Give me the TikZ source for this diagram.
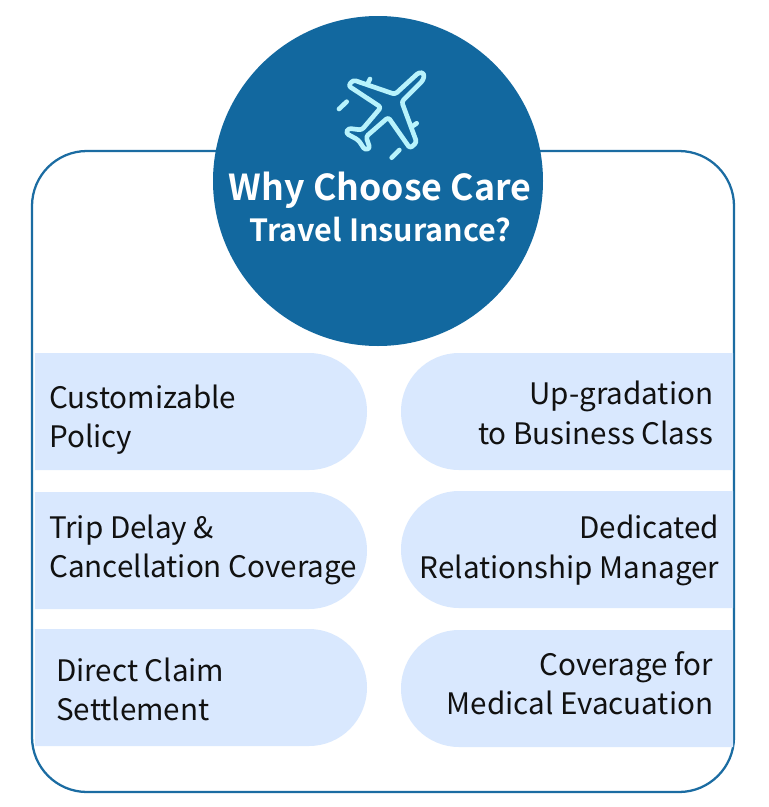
\documentclass[tikz,border=0pt]{standalone}
\usepackage{fontspec}
\setmainfont{Noto Sans CJK SC}
\newfontfamily\titlefont{Noto Sans CJK SC Bold}
\definecolor{deepblue}{HTML}{12689F}
\definecolor{framec}{HTML}{1B6CA2}
\definecolor{pillc}{HTML}{D9E8FE}
\definecolor{planec}{HTML}{B8F3FC}
\definecolor{inkc}{HTML}{111111}
\tikzset{
  x=0.75pt,y=-0.75pt,
  pilltext/.style={inner sep=0pt,text=inkc,font=\fontsize{22.2pt}{27pt}\selectfont},
  lefttext/.style={pilltext,anchor=base west},
  righttext/.style={pilltext,anchor=base east},
  titlebig/.style={inner sep=0pt,text=white,anchor=base,font=\titlefont\fontsize{26.8pt}{32pt}\selectfont},
  titlesmall/.style={inner sep=0pt,text=white,anchor=base,font=\titlefont\fontsize{22.9pt}{28pt}\selectfont},
  planeline/.style={draw=planec,line width=3.5pt,line cap=round,line join=round},
}
\newcommand{\leftpill}[2]{\fill[pillc] (35,#1) -- (309,#1) arc[start angle=90,end angle=-90,x radius=58,y radius=-58.5] -- (35,#2) -- cycle;}
\newcommand{\rightpill}[2]{\fill[pillc] (733,#1) -- (459,#1) arc[start angle=90,end angle=270,x radius=58,y radius=-58.5] -- (733,#2) -- cycle;}
\begin{document}
\begin{tikzpicture}
\useasboundingbox (0,0) rectangle (768,807);
\fill[white] (0,0) rectangle (768,807);
% frame
\draw[framec,line width=1.7pt] (87,151) -- (679,151) arc[start angle=90,end angle=0,x radius=55,y radius=-55] -- (734,737) arc[start angle=0,end angle=-90,x radius=55,y radius=-55] -- (87,792) arc[start angle=270,end angle=180,x radius=55,y radius=-55] -- (32,206) arc[start angle=180,end angle=90,x radius=55,y radius=-55] -- cycle;
% pills
\leftpill{353}{470}
\leftpill{492}{609}
\leftpill{629}{746}
\rightpill{353}{470}
\rightpill{491}{608}
\rightpill{630}{747}
% circle
\fill[deepblue] (378,181) circle[radius=165];
% plane
\draw[planeline,rounded corners=2pt] (424.3,73.3) -- (419,72.3) -- (395,94.3) -- (353.3,80) -- (348.3,85.7) -- (381,107.3) -- (361.7,130) -- (348.3,128.3) -- (346,133.3) -- (358.3,140) -- (365,150) -- (370,148.3) -- (366,136.7) -- (388.3,117.3) -- (410,148.3) -- (416.7,142.3) -- (401.7,101.7) -- (423.3,80) -- cycle;
\draw[planeline] (370,79) -- (368,83);
\draw[planeline] (416.7,123.3) -- (411.7,126.7);
\draw[planeline] (339,109) -- (346.7,101.7);
\draw[planeline] (391.7,157.7) -- (399.3,150);
% title
\node[titlebig] (t1) at (380,200) {Why Choose Care};
\node[titlesmall] (t2) at (380.5,241) {Travel Insurance?};
% left texts
\node[lefttext] (a1) at (49,408) {Customizable};
\node[lefttext] (a2) at (49,447) {Policy};
\node[lefttext] (b1) at (49,538) {Trip Delay \&};
\node[lefttext] (b2) at (49,577) {Cancellation Coverage};
\node[lefttext] (c1) at (56,681) {Direct Claim};
\node[lefttext] (c2) at (56,720) {Settlement};
% right texts
\node[righttext] (d1) at (713.5,404) {Up-gradation};
\node[righttext] (d2) at (713.5,444) {to Business Class};
\node[righttext] (e1) at (719.5,538) {Dedicated};
\node[righttext] (e2) at (719.5,578) {Relationship Manager};
\node[righttext] (f1) at (713.5,675) {Coverage for};
\node[righttext] (f2) at (713.5,714) {Medical Evacuation};
\end{tikzpicture}
\end{document}
